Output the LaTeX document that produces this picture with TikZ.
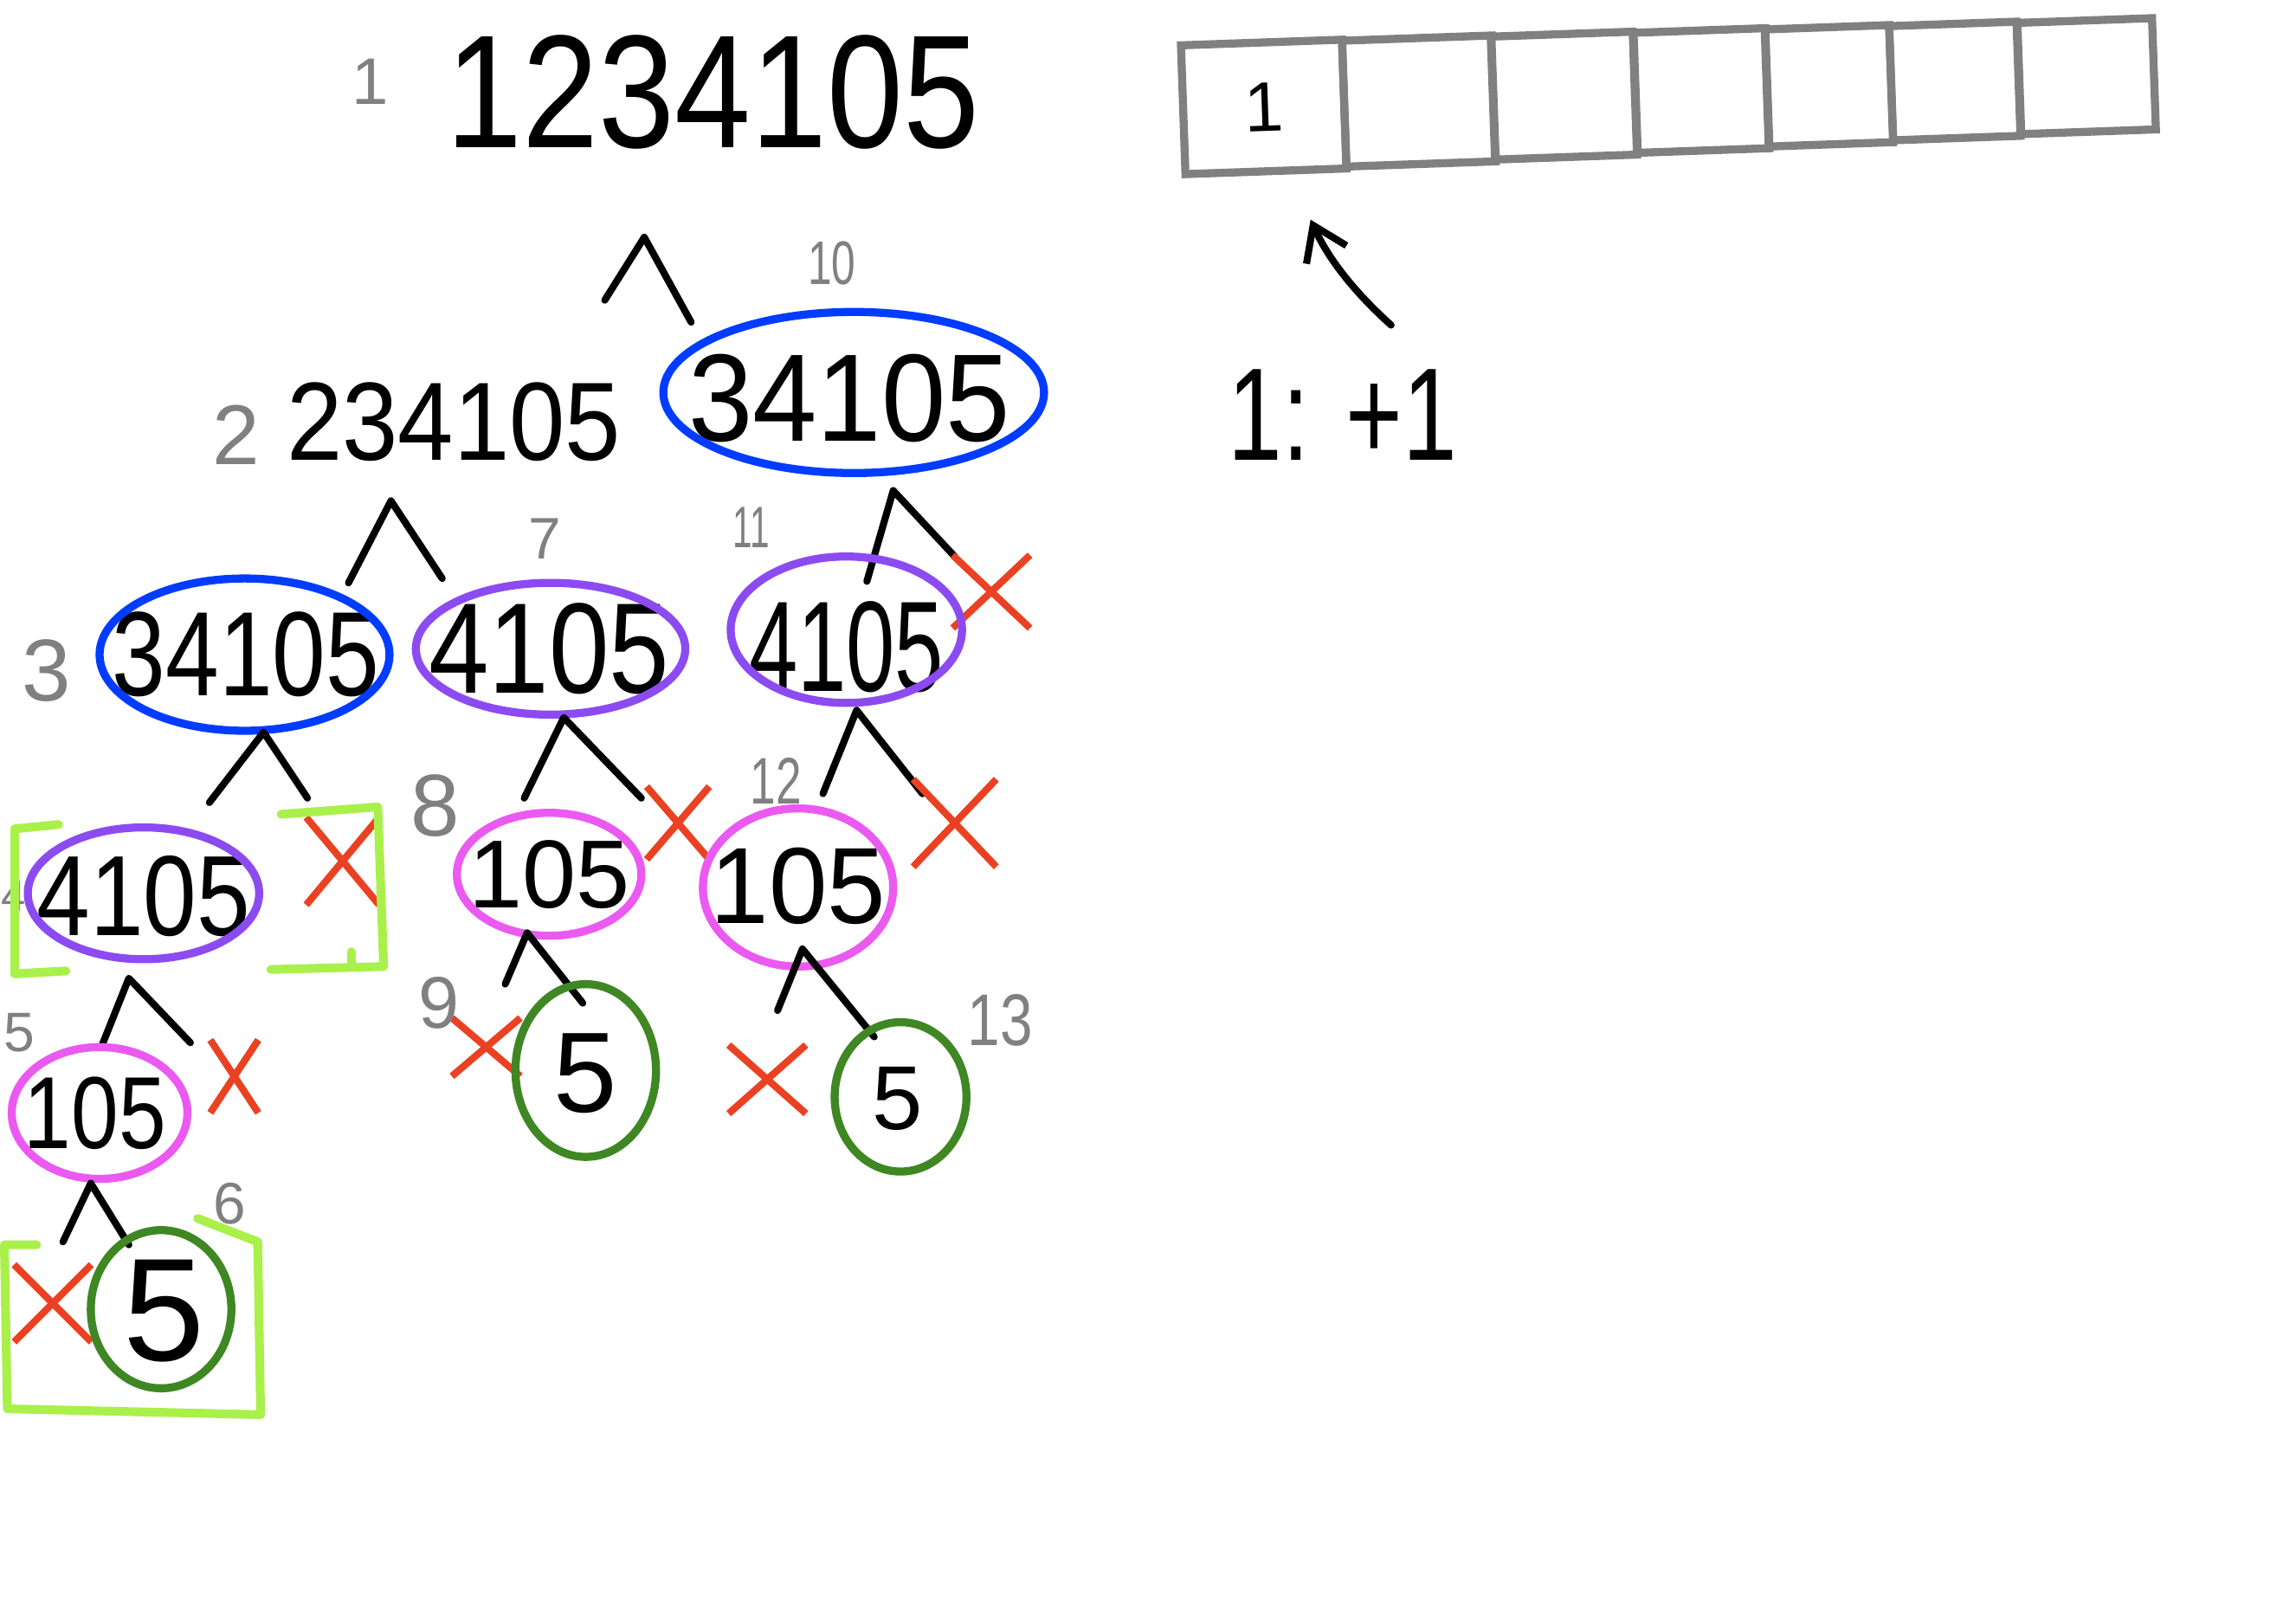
\documentclass[tikz,border=0pt]{standalone}
\usepackage{fontspec}
\setmainfont{Liberation Sans}
\usetikzlibrary{shapes.misc,arrows.meta}
\definecolor{cblue}{RGB}{0,60,255}
\definecolor{cpurple}{RGB}{140,75,240}
\definecolor{cpink}{RGB}{235,90,240}
\definecolor{cgreen}{RGB}{62,135,35}
\definecolor{clime}{RGB}{170,240,75}
\definecolor{cred}{RGB}{235,65,35}
\definecolor{cgray}{RGB}{128,128,128}
\newcommand\fsz[1]{\fontsize{#1}{#1}\selectfont}
\begin{document}
\begin{tikzpicture}[x=1pt,y=-1pt,
 num/.style={inner sep=0pt,text=black},
 idx/.style={inner sep=0pt,text=cgray},
 xmark/.style={cross out,draw=cred,line width=4.8pt,inner sep=0pt},
 edge/.style={draw=black,line width=4.8pt,line cap=round,line join=round},
 blob/.style={line width=5.5pt},
 bracket/.style={draw=clime,line width=6pt,line cap=round,line join=round},
 cell/.style={draw=cgray,line width=5.5pt,inner sep=0pt,rotate=2,text=black,font=\fsz{48}}]
\fill[white] (0,0) rectangle (1568,1106);
\useasboundingbox (0,0) rectangle (1568,1106);

% ---- root
\node[num,font=\fsz{110},xscale=.85] (root) at (487,63) {1234105};
\node[idx,font=\fsz{45}] (i1) at (253,56) {1};

% ---- array
\node[cell,minimum width=110,minimum height=88] (c1) at (863,73) {1};
\node[cell,minimum width=102,minimum height=86] (c2) at (969,69) {};
\node[cell,minimum width=97,minimum height=84] (c3) at (1068,65.3) {};
\node[cell,minimum width=90,minimum height=82] (c4) at (1162,61.8) {};
\node[cell,minimum width=85,minimum height=80] (c5) at (1249,58.6) {};
\node[cell,minimum width=87,minimum height=78] (c6) at (1335,55.3) {};
\node[cell,minimum width=92,minimum height=76] (c7) at (1425,52) {};

\node[num,font=\fsz{90},xscale=.74] (rule) at (917,283) {1: +1};
\coordinate (arrS) at (950,222);
\coordinate (arrE) at (895,150);
\draw[edge,-{Straight Barb[length=22pt,width=30pt]}] (arrS) .. controls (920,195) and (905,172) .. (arrE);

% ---- level 1
\coordinate (a0) at (440,162); \coordinate (l0) at (413,205); \coordinate (r0) at (472,220);
\draw[edge] (l0) -- (a0) -- (r0);

\node[num,font=\fsz{76},xscale=.9] (n2) at (310,288) {234105};
\node[idx,font=\fsz{58}] (i2) at (161,297) {2};

\node[num,font=\fsz{85},xscale=.93] (n10) at (580,272) {34105};
\draw[cblue,blob] (583,268) ellipse [x radius=130,y radius=55];
\node[idx,font=\fsz{42},xscale=.7] (i10) at (568,180) {10};

% ---- level 2
\coordinate (a1) at (267,342); \coordinate (l1) at (238,398); \coordinate (r1) at (302,395);
\draw[edge] (l1) -- (a1) -- (r1);
\coordinate (a2) at (610,335); \coordinate (l2) at (592,397); \coordinate (r2) at (652,380);
\draw[edge] (l2) -- (a2) -- (r2);
\node[xmark,minimum width=48,minimum height=45] (x10) at (677,404) {};

\node[num,font=\fsz{82},xscale=.8] (n3) at (168,447) {34105};
\draw[cblue,blob] (167,447) ellipse [x radius=99,y radius=52];
\node[idx,font=\fsz{60}] (i3) at (32,458) {3};

\node[num,font=\fsz{88},xscale=.84] (n7) at (375,443) {4105};
\draw[cpurple,blob] (376,443) ellipse [x radius=92,y radius=45];
\node[idx,font=\fsz{40}] (i7) at (372,368) {7};

\node[num,font=\fsz{88},xscale=.68] (n11) at (578,442) {4105};
\draw[cpurple,blob] (578,430) ellipse [x radius=79,y radius=50];
\node[idx,font=\fsz{40},xscale=.6] (i11) at (513,360) {11};

% ---- level 3
\coordinate (a3) at (180,500); \coordinate (l3) at (143,548); \coordinate (r3) at (210,545);
\draw[edge] (l3) -- (a3) -- (r3);
\coordinate (a4) at (385,490); \coordinate (l4) at (358,545); \coordinate (r4) at (438,545);
\draw[edge] (l4) -- (a4) -- (r4);
\coordinate (a5) at (585,485); \coordinate (l5) at (562,542); \coordinate (r5) at (630,542);
\draw[edge] (l5) -- (a5) -- (r5);

\node[num,font=\fsz{78},xscale=.84] (n4) at (98,612) {4105};
\draw[cpurple,blob] (98,610) ellipse [x radius=79,y radius=45];
\node[idx,font=\fsz{30}] (i4) at (9.5,612) {4};
\draw[bracket] (40,563) -- (10,566) -- (10,665) -- (45,663);
\node[xmark,minimum width=45,minimum height=55] (x3) at (234,588) {};
\draw[bracket] (192,556) -- (258,551) -- (262,660) -- (185,662);
\draw[bracket] (240,650) -- (240,660);

\node[num,font=\fsz{66}] (n8) at (375,597) {105};
\draw[cpink,blob] (375,597) ellipse [x radius=63,y radius=42];
\node[idx,font=\fsz{60}] (i8) at (297,550) {8};
\node[xmark,minimum width=38,minimum height=45] (x7) at (463,562) {};

\node[num,font=\fsz{74},xscale=.97] (n12) at (545,605) {105};
\draw[cpink,blob] (545,606) ellipse [x radius=65,y radius=54];
\node[idx,font=\fsz{45},xscale=.7] (i12) at (530,533) {12};
\node[xmark,minimum width=52,minimum height=55] (x11) at (652,562) {};

% ---- level 4
\coordinate (a6) at (88,668); \coordinate (l6) at (70,713); \coordinate (r6) at (130,712);
\draw[edge] (l6) -- (a6) -- (r6);
\coordinate (a7) at (360,637); \coordinate (l7) at (345,672); \coordinate (r7) at (398,685);
\draw[edge] (l7) -- (a7) -- (r7);
\coordinate (a8) at (548,648); \coordinate (l8) at (531,690); \coordinate (r8) at (597,708);
\draw[edge] (l8) -- (a8) -- (r8);

\node[num,font=\fsz{70},xscale=.83] (n5) at (65,760) {105};
\draw[cpink,blob] (68,760) ellipse [x radius=60,y radius=45];
\node[idx,font=\fsz{38}] (i5) at (13,705) {5};
\node[xmark,minimum width=28,minimum height=45] (x4) at (160,735) {};

\node[xmark,minimum width=42,minimum height=35] (x8) at (332,715) {};
\node[num,font=\fsz{78}] (n9) at (400,733) {5};
\draw[cgreen,blob] (400,731) ellipse [x radius=48,y radius=59];
\node[idx,font=\fsz{50}] (i9) at (300,685) {9};

\node[xmark,minimum width=48,minimum height=42] (x12) at (524,737) {};
\node[num,font=\fsz{62}] (n13) at (613,750) {5};
\draw[cgreen,blob] (615,749) ellipse [x radius=45,y radius=51];
\node[idx,font=\fsz{50},xscale=.8] (i13) at (683,697) {13};

% ---- level 5
\coordinate (a9) at (62,808); \coordinate (l9) at (43,848); \coordinate (r9) at (88,850);
\draw[edge] (l9) -- (a9) -- (r9);
\node[xmark,minimum width=48,minimum height=48] (x5) at (36,890) {};
\node[num,font=\fsz{100}] (n6) at (112,895) {5};
\draw[cgreen,blob] (110,894) ellipse [x radius=48,y radius=54];
\node[idx,font=\fsz{40}] (i6) at (157,822) {6};
\draw[bracket] (25,850) -- (3,850) -- (5,962) -- (178,966) -- (176,848) -- (135,832);
\end{tikzpicture}
\end{document}
